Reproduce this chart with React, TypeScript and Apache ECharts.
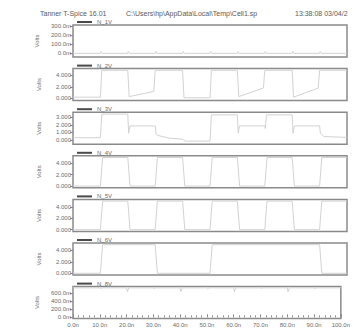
import { useEffect, useRef } from "react";
import * as echarts from "echarts";

// ---- data ----
const SERIES_NAMES = ["N_1V", "N_2V", "N_3V", "N_4V", "N_5V", "N_6V", "N_8V"];

const N1V = [
  [0, 0], [10, 0], [10.2, 0.02], [10.6, 0], [20, 0], [20.2, 0.02], [20.6, 0],
  [30, 0], [30.2, 0.02], [30.6, 0], [40, 0], [40.2, 0.02], [40.6, 0],
  [50, 0], [50.2, 0.02], [50.6, 0], [60, 0], [60.2, 0.02], [60.6, 0],
  [70, 0], [70.2, 0.02], [70.6, 0], [80, 0], [80.2, 0.02], [80.6, 0],
  [90, 0], [90.2, 0.02], [90.6, 0], [100, 0],
];
const N2V = [
  [0, 0.2], [10, 0.2], [10.5, 4.9], [20, 4.9], [20.5, 0.3], [29.5, 1.2], [30, 4.9],
  [40, 4.9], [40.5, 0.1], [50, 0.1], [50.5, 4.9], [60, 4.9], [60.5, 0.3],
  [69.5, 1.8], [70, 4.9], [80, 4.9], [80.5, 0.2], [89.5, 1.8], [90, 4.9], [100, 4.9],
];
const N3V = [
  [0, 0.3], [10, 0.3], [10.5, 3.4], [20, 3.4], [20.3, 0.9], [20.8, 1.85], [30, 1.85],
  [30.3, 0.8], [31, 0.6], [35, 0.25], [40, 0.1], [41, -0.15], [50, -0.15],
  [50.5, 3.3], [60, 3.3], [60.3, 0.9], [60.8, 1.85], [70, 1.85], [70.2, 1.5],
  [70.6, 3.3], [80, 3.3], [80.3, 0.9], [80.8, 1.85], [90, 1.85], [90.3, 0.9],
  [91.5, 0.45], [100, 0.35],
];
const N4V = [
  [0, 0], [10, 0], [10.8, 5], [20, 5], [20.8, 0], [30, 0], [30.8, 5], [40, 5],
  [40.8, 0], [50, 0], [50.8, 5], [60, 5], [60.8, 0], [70, 0], [70.8, 5], [80, 5],
  [80.8, 0], [90, 0], [90.8, 5], [100, 5],
];
const N5V = [
  [0, 0], [10, 0], [10.8, 5], [20, 5], [20.8, 0], [30, 0], [30.8, 5], [40, 5],
  [40.8, 0], [50, 0], [50.8, 5], [60, 5], [60.8, 0], [70, 0], [70.8, 5], [80, 5],
  [80.8, 0], [90, 0], [90.8, 5], [100, 5],
];
const N6V = [
  [0, 0], [10, 0], [10.8, 5], [30, 5], [30.8, 0], [50, 0], [50.8, 5], [90, 5],
  [90.8, 0], [100, 0],
];
const N8V = [
  [0, 0.72], [10, 0.72], [10.3, 0.7], [10.8, 0.72], [20, 0.72], [20.3, 0.625], [20.8, 0.72],
  [30, 0.72], [30.3, 0.7], [30.8, 0.72], [40, 0.72], [40.3, 0.625], [40.8, 0.72],
  [50, 0.72], [50.3, 0.7], [50.8, 0.72], [60, 0.72], [60.3, 0.625], [60.8, 0.72],
  [70, 0.72], [70.3, 0.7], [70.8, 0.72], [80, 0.72], [80.3, 0.625], [80.8, 0.72],
  [90, 0.72], [90.3, 0.7], [90.8, 0.72], [100, 0.72],
];
const SERIES_DATA = [N1V, N2V, N3V, N4V, N5V, N6V, N8V];

const Y_MIN = [-0.04, -0.4, -0.55, -0.3, -0.3, -0.3, -0.03];
const Y_MAX = [0.31, 5.2, 3.65, 5.3, 5.3, 5.3, 0.75];
const Y_TICKS = [
  [0, 0.1, 0.2, 0.3],
  [0, 2, 4],
  [0, 1, 2, 3],
  [0, 2, 4],
  [0, 2, 4],
  [0, 2, 4],
  [0, 0.2, 0.4, 0.6],
];
const Y_MILLI = [true, false, false, false, false, false, true];

const X_MIN = 0;
const X_MAX = 100;
const X_INTERVAL = 10;

const TITLE_LEFT = "Tanner T-Spice 16.01";
const TITLE_PATH = "C:\\Users\\hp\\AppData\\Local\\Temp\\Cell1.sp";
const TITLE_TIME = "13:38:08 03/04/2";

// ---- layout ----
const PLOT_LEFT = 73;
const PLOT_RIGHT = 6;
const PANEL_TOP0 = 25;
const PANEL_STEP = 43.6;
const PANEL_H = 32;

const TEXT = "#6b6b6b";
const BORDER = "#8a8a8a";
const TRACE = "#d2d2d2";
const FONT = "Liberation Sans, Arial, sans-serif";

export default function App() {
  const ref = useRef<HTMLDivElement>(null);

  useEffect(() => {
    document.body.style.margin = "0";
    if (!ref.current) return;
    const chart = echarts.init(ref.current, undefined, { renderer: "svg" });
    const n = SERIES_NAMES.length;
    const tops = SERIES_NAMES.map((_, i) => PANEL_TOP0 + PANEL_STEP * i);

    const grid = tops.map((t) => ({
      left: PLOT_LEFT,
      right: PLOT_RIGHT,
      top: t,
      height: PANEL_H,
      show: true,
      borderColor: BORDER,
      borderWidth: 1.5,
      backgroundColor: "#fff",
    }));

    const xAxis = tops.map((_, i) => {
      const last = i === n - 1;
      return {
        type: "value",
        gridIndex: i,
        min: X_MIN,
        max: X_MAX,
        interval: X_INTERVAL,
        axisLine: { show: false },
        splitLine: { show: false },
        axisTick: {
          show: last,
          inside: true,
          length: 3,
          lineStyle: { color: BORDER, width: 1 },
        },
        minorTick: {
          show: last,
          splitNumber: 5,
          length: 2,
          lineStyle: { color: BORDER, width: 1 },
        },
        axisLabel: {
          show: last,
          fontSize: 6,
          color: TEXT,
          fontFamily: FONT,
          margin: 3,
          formatter: (v: number) => v.toFixed(1) + "n",
        },
      };
    });

    const yAxis = tops.map((_, i) => ({
      type: "value",
      gridIndex: i,
      min: Y_MIN[i],
      max: Y_MAX[i],
      name: "Volts",
      nameLocation: "middle",
      nameRotate: 90,
      nameGap: 31,
      nameTextStyle: { fontSize: 6, color: TEXT, fontFamily: FONT },
      axisLine: { show: false },
      splitLine: { show: false },
      axisTick: {
        show: true,
        length: 3,
        customValues: Y_TICKS[i],
        lineStyle: { color: BORDER, width: 1 },
      },
      axisLabel: {
        show: true,
        fontSize: 6,
        color: TEXT,
        fontFamily: FONT,
        margin: 2,
        customValues: Y_TICKS[i],
        formatter: (v: number) =>
          Y_MILLI[i] ? (v * 1000).toFixed(1) + "m" : v.toFixed(3),
      },
    }));

    const legend = SERIES_NAMES.map((name, i) => ({
      data: [{ name, itemStyle: { color: "#4a4a4a" } }],
      left: 77,
      top: tops[i] - 6,
      icon: "rect",
      itemWidth: 15,
      itemHeight: 2,
      padding: 0,
      selectedMode: false,
      textStyle: { fontSize: 6, color: TEXT, fontFamily: FONT, lineHeight: 6 },
    }));

    const series = SERIES_NAMES.map((name, i) => ({
      name,
      type: "line",
      xAxisIndex: i,
      yAxisIndex: i,
      data: SERIES_DATA[i],
      showSymbol: false,
      symbol: "none",
      color: TRACE,
      lineStyle: { color: TRACE, width: 1 },
      clip: true,
    }));

    const titleStyle = { fontSize: 7, color: "#5a5a5a", fontWeight: "normal", fontFamily: FONT };

    chart.setOption({
      animation: false,
      backgroundColor: "#fff",
      title: [
        { text: TITLE_LEFT, left: 40, top: 10, padding: 0, textStyle: titleStyle },
        { text: TITLE_PATH, left: 126, top: 10, padding: 0, textStyle: titleStyle },
        { text: TITLE_TIME, left: 295, top: 10, padding: 0, textStyle: titleStyle },
      ],
      legend,
      grid,
      xAxis,
      yAxis,
      series,
    });

    return () => chart.dispose();
  }, []);

  return <div ref={ref} style={{ width: 353, height: 329 }} />;
}
